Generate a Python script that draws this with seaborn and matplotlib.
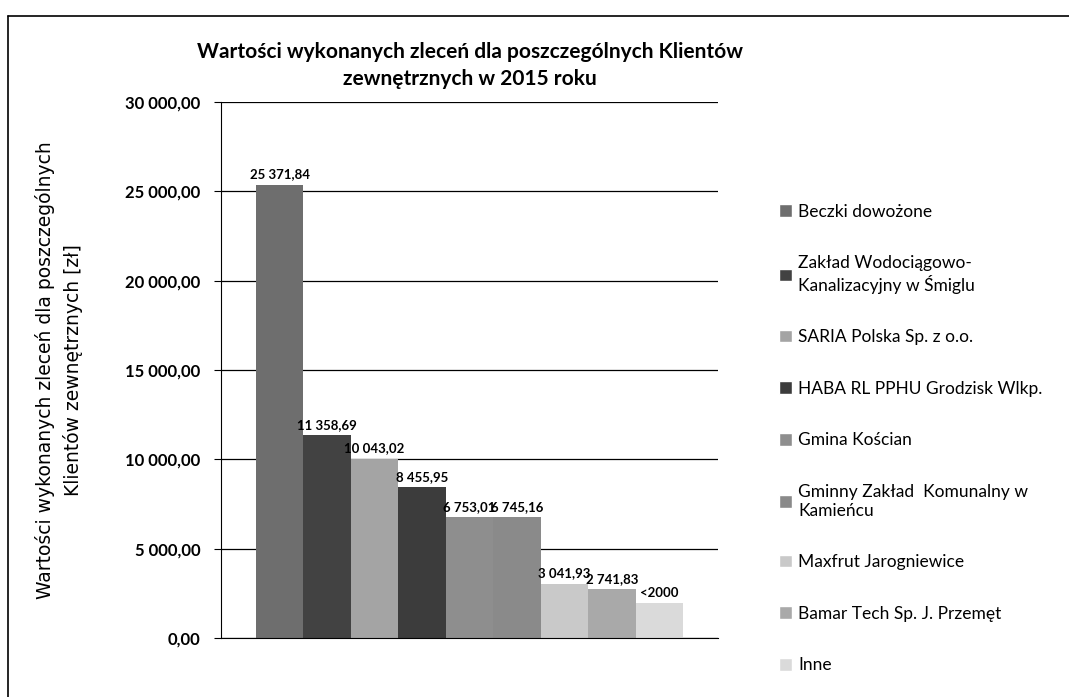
import matplotlib
matplotlib.use("Agg")
import matplotlib.pyplot as plt
import seaborn as sns
import pandas as pd
from matplotlib.lines import Line2D

# data
clients = [
    "Beczki dowożone",
    "Zakład Wodociągowo-\nKanalizacyjny w Śmiglu",
    "SARIA Polska Sp. z o.o.",
    "HABA RL PPHU Grodzisk Wlkp.",
    "Gmina Kościan",
    "Gminny Zakład  Komunalny w\nKamieńcu",
    "Maxfrut Jarogniewice",
    "Bamar Tech Sp. J. Przemęt",
    "Inne",
]
values = [25371.84, 11358.69, 10043.02, 8455.95, 6753.01, 6745.16, 3041.93, 2741.83, 1950]
value_labels = ["25 371,84", "11 358,69", "10 043,02", "8 455,95", "6 753,01",
                "6 745,16", "3 041,93", "2 741,83", "<2000"]
bar_colors = ["#6e6e6e", "#424242", "#a4a4a4", "#3c3c3c", "#8e8e8e",
              "#8a8a8a", "#c9c9c9", "#a9a9a9", "#dadada"]
yticks = [0, 5000, 10000, 15000, 20000, 25000, 30000]
ytick_labels = ["0,00", "5 000,00", "10 000,00", "15 000,00", "20 000,00", "25 000,00", "30 000,00"]

sns.set_style("white")
plt.rcParams['font.family'] = ['Lato', 'DejaVu Sans']
plt.rcParams['text.color'] = 'black'
plt.rcParams['axes.labelcolor'] = 'black'
plt.rcParams['ytick.color'] = 'black'

df = pd.DataFrame({"grupa": [""] * len(clients), "klient": clients, "wartosc": values})

fig = plt.figure(figsize=(10.69, 6.97), dpi=100)
ax = fig.add_axes([0.2068, 0.0847, 0.4649, 0.769])

sns.barplot(data=df, x="grupa", y="wartosc", hue="klient", hue_order=clients,
            palette=bar_colors, width=0.86, ax=ax, legend=False,
            edgecolor="none", saturation=1)

for cont, lab in zip(ax.containers, value_labels):
    ax.bar_label(cont, labels=[lab], padding=3, fontsize=9.5, fontweight="bold")

ax.set_ylim(0, 30000)
ax.set_yticks(yticks)
ax.set_yticklabels(ytick_labels, fontsize=12, fontweight="bold")
ax.set_xticks([])
ax.set_xlabel("")
ax.set_ylabel("Wartości wykonanych zleceń dla poszczególnych\nKlientów zewnętrznych [zł]",
              fontsize=13.5, family=['DejaVu Sans'], labelpad=30, linespacing=1.5)
ax.yaxis.grid(True, color="black", linewidth=0.9)
ax.set_axisbelow(True)
ax.tick_params(axis="y", direction="out", length=5, color="black", left=True, pad=10)
for side in ["top", "right"]:
    ax.spines[side].set_visible(False)
ax.spines["left"].set_color("black")
ax.spines["bottom"].set_color("black")

ax.set_title("Wartości wykonanych zleceń dla poszczególnych Klientów\nzewnętrznych w 2015 roku",
             fontsize=15, fontweight="bold", pad=12, linespacing=1.45)

# legend
handles = [plt.Rectangle((0, 0), 1, 1, facecolor=c) for c in bar_colors]
fig.legend(handles, clients, loc="upper left", bbox_to_anchor=(0.714, 0.73),
           frameon=False, fontsize=12.5, handlelength=0.75, handleheight=0.75,
           handletextpad=0.35, labelspacing=2.05)

# outer chart border (left and top)
fig.add_artist(Line2D([0.0075, 0.0075], [0.0, 0.977], color="black", linewidth=1.2))
fig.add_artist(Line2D([0.0075, 1.0], [0.977, 0.977], color="black", linewidth=1.2))

fig.savefig("out.png", dpi=100)
